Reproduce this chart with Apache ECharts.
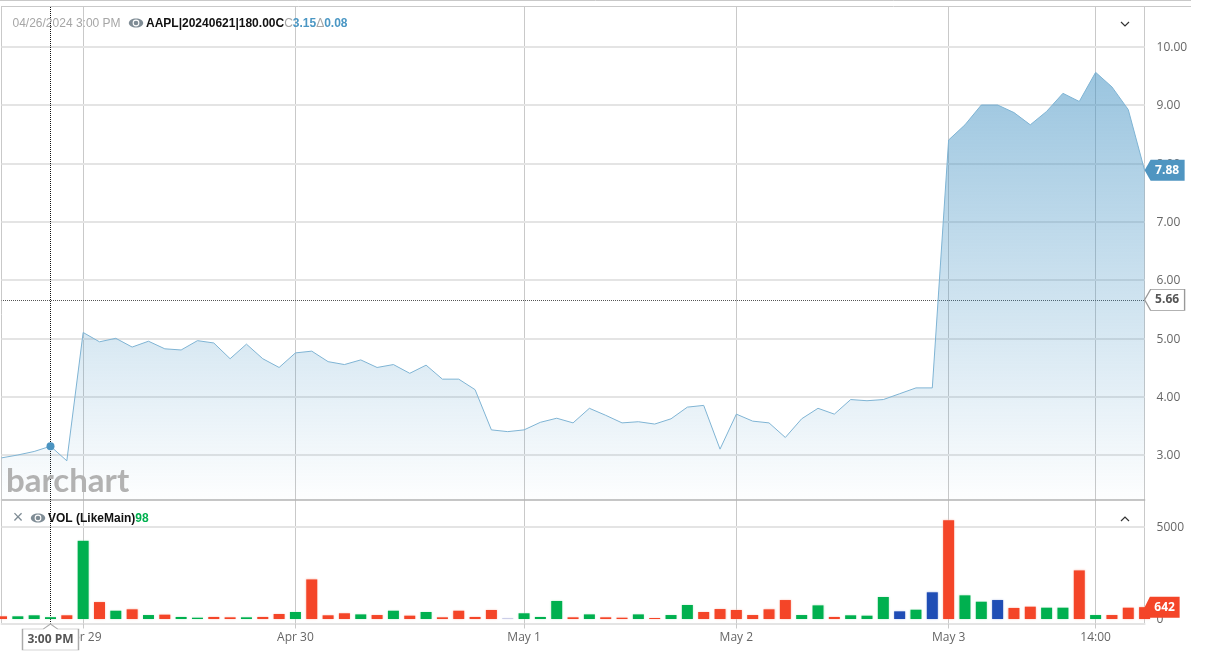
<!DOCTYPE html>
<html><head><meta charset="utf-8">
<style>html,body{margin:0;padding:0;background:#fff}#c{width:1210px;height:656px}</style>
<script src="https://cdn.jsdelivr.net/npm/echarts@6/dist/echarts.min.js"></script>
</head><body><div id="c"></div>
<script>
// 30-minute bars; only the labelled ones carry axis text
const tickLabels = {5:'Apr 29',18:'Apr 30',32:'May 1',45:'May 2',58:'May 3',67:'14:00'};
const categories = Array.from({length:71},(_,i)=>tickLabels[i]||('b'+i));
const prices = [2.95,3.0,3.06,3.15,2.9,5.1,4.94,5.0,4.85,4.95,4.82,4.8,4.96,4.92,4.65,4.9,4.65,4.5,4.75,4.78,4.6,4.55,4.63,4.5,4.55,
  4.4,4.54,4.3,4.3,4.12,3.43,3.4,3.43,3.56,3.63,3.55,3.8,3.68,3.55,3.57,3.53,3.62,3.82,3.85,3.1,3.7,3.58,3.55,3.3,3.62,
  3.8,3.7,3.95,3.93,3.95,4.05,4.15,4.15,8.4,8.66,9.0,9.0,8.87,8.66,8.89,9.2,9.06,9.56,9.31,8.92,7.88];
const volumes = [145,145,200,98,200,4250,920,450,525,215,235,110,70,110,90,90,110,270,380,2150,200,310,250,215,450,
  180,380,90,450,110,490,50,310,110,980,90,250,90,70,250,55,215,760,380,540,490,215,525,1030,215,
  740,110,200,180,1195,415,505,1450,5360,1285,940,1030,600,670,615,615,2640,215,215,615,642];
const dirs = ['r','g','g','g','r','g','r','g','r','g','r','g','g','r','r','g','r','r','g','r','r','r','g','r','g',
  'r','g','r','r','r','r','p','g','g','g','r','g','r','r','g','r','g','g','r','r','r','r','r','r','g',
  'g','r','g','g','g','b','g','b','r','g','g','b','r','r','g','g','r','g','r','r','r'];
const dirColors = {g:'#00b04f',r:'#f44528',b:'#1f4db5',p:'#c9cbe6'};
const dirEdges = {g:'#c4ecd3',r:'#fbc3b8',b:'#b6c4e6',p:'#dfe0f0'};
const priceTicks = [3,4,5,6,7,8,9,10];
const volumeTicks = [0,5000];
const lastPrice = 7.88, crossPrice = 5.66, crossIndex = 3, lastVolume = 642;

const tickFn = i => !!tickLabels[i];
const grey = '#c9c9c9', grid = '#e4e4e4', label = '#666', OS = '"Open Sans"', LS = '"Liberation Sans"';
const tagL = 'path://M0 10.5 L6 0 L40 0 L40 21 L6 21 Z';
const dot = {color:'#111',type:[1,1],width:1};
const hLine = (x1,y,x2,c,w)=>({type:'line',silent:true,z:1,shape:{x1,y1:y,x2,y2:y},style:{stroke:c,lineWidth:w||1}});
const vLine = (x,y1,y2,c)=>({type:'line',silent:true,z:1,shape:{x1:x,y1,x2:x,y2},style:{stroke:c,lineWidth:1}});
const eye = (x,y)=>({type:'group',x,y,silent:true,z:20,children:[
  {type:'ellipse',shape:{cx:7,cy:5,rx:7.2,ry:4.6},style:{fill:'#7f8c95'}},
  {type:'circle',shape:{cx:7,cy:5,r:3.4},style:{fill:'#fff'}},
  {type:'circle',shape:{cx:7,cy:5,r:2.3},style:{fill:'#7f8c95'}}]});
const chev = (x,y,d)=>({type:'polyline',silent:true,z:20,shape:{points:[[x-4,y-2*d],[x,y+2*d],[x+4,y-2*d]]},style:{stroke:'#333',fill:null,lineWidth:1.2}});
const yLabel = {color:label,fontFamily:OS,fontSize:12,margin:12,verticalAlign:'top',lineHeight:2};

const chart = echarts.init(document.getElementById('c'),null,{renderer:'canvas'});
chart.setOption({
  animation:false,
  grid:[{left:1.5,width:1143.1,top:7,height:493},{left:1.5,width:1143.1,top:500,height:123.5}],
  xAxis:[
    {type:'category',gridIndex:0,data:categories,boundaryGap:false,
     axisLine:{onZero:false,lineStyle:{color:'#b4b4b4',width:1.5}},axisTick:{show:false},axisLabel:{show:false},
     splitLine:{show:true,interval:tickFn,lineStyle:{color:grey,width:1}}},
    {type:'category',gridIndex:1,data:categories,boundaryGap:false,
     axisLine:{onZero:false,lineStyle:{color:grid,width:2}},
     axisTick:{show:true,interval:tickFn,length:5,lineStyle:{color:grey}},
     axisLabel:{interval:tickFn,formatter:v=>v.startsWith('b')?'':v,color:label,fontFamily:OS,fontSize:12,margin:8},
     splitLine:{show:true,interval:tickFn,lineStyle:{color:grey,width:1}}}
  ],
  yAxis:[
    {type:'value',gridIndex:0,position:'right',min:2.228,max:10.68,
     axisLine:{show:true,lineStyle:{color:grey}},axisTick:{show:false},
     axisLabel:{...yLabel,customValues:priceTicks,formatter:v=>v.toFixed(2)},
     splitLine:{show:false}},
    {type:'value',gridIndex:1,position:'right',min:-245,max:6467,
     axisLine:{show:true,lineStyle:{color:grey}},axisTick:{show:false},
     axisLabel:{...yLabel,customValues:volumeTicks,formatter:v=>String(v)},
     splitLine:{show:false}}
  ],
  series:[
    {type:'line',xAxisIndex:0,yAxisIndex:0,data:prices,showSymbol:false,silent:true,z:3,
     lineStyle:{color:'#7fb4d4',width:1},
     areaStyle:{origin:'start',color:{type:'linear',x:0,y:0,x2:0,y2:1,colorStops:[{offset:0,color:'rgba(65,145,195,0.76)'},{offset:1,color:'rgba(65,145,195,0.01)'}]}},
     markLine:{silent:true,symbol:'none',animation:false,label:{show:false},z:1,data:[
       ...priceTicks.map(v=>({yAxis:v,lineStyle:{color:grid,width:2,type:'solid'}})),
       {xAxis:crossIndex,lineStyle:dot},
       {yAxis:crossPrice,lineStyle:{color:'#555',type:[1,1],dashOffset:0.5,width:1}}]},
     markPoint:{silent:true,animation:false,data:[
       {coord:[crossIndex,prices[crossIndex]],symbol:'circle',symbolSize:8,itemStyle:{color:'#4b94c1'},label:{show:false}},
       {coord:[prices.length-1,lastPrice],symbol:tagL,symbolSize:[40,21],symbolOffset:[20,0],itemStyle:{color:'#4f95c1'},
        label:{show:true,position:'inside',offset:[2.5,0],formatter:lastPrice.toFixed(2),color:'#fff',fontWeight:'bold',fontFamily:OS,fontSize:12}},
       {coord:[prices.length-1,crossPrice],symbol:tagL,symbolSize:[40,21],symbolOffset:[20,0],itemStyle:{color:'#fff',borderColor:'#999',borderWidth:1},
        label:{show:true,position:'inside',offset:[2.5,0],formatter:crossPrice.toFixed(2),color:'#555',fontWeight:'bold',fontFamily:OS,fontSize:12}}
     ]}},
    {type:'bar',xAxisIndex:1,yAxisIndex:1,barWidth:11,silent:true,z:3,
     data:volumes.map((v,i)=>({value:v,itemStyle:{color:dirColors[dirs[i]],shadowBlur:2,shadowColor:dirEdges[dirs[i]]}})),
     markLine:{silent:true,symbol:'none',animation:false,label:{show:false},z:1,data:[
       {yAxis:5000,lineStyle:{color:grid,width:2,type:'solid'}},
       {xAxis:crossIndex,lineStyle:{...dot,dashOffset:0.5}}]},
     markPoint:{silent:true,animation:false,data:[
       {coord:[volumes.length-1,lastVolume],symbol:tagL,symbolSize:[35,21],symbolOffset:[17.5,0],itemStyle:{color:'#f44528'},
        label:{show:true,position:'inside',offset:[2.5,0],formatter:String(lastVolume),color:'#fff',fontWeight:'bold',fontFamily:OS,fontSize:12}},
       {coord:[crossIndex,-245],symbol:'path://M28 0 L35 5 L56 5 L56 26 L0 26 L0 5 L21 5 Z',symbolSize:[56,26],symbolOffset:[0,13.5],
        itemStyle:{color:'#fff',borderColor:'#aaa',borderWidth:1},
        label:{show:true,position:'inside',offset:[0,2.5],formatter:'3:00 PM',color:'#555',fontWeight:'bold',fontFamily:OS,fontSize:12}}
     ]}}
  ],
  graphic:[
    hLine(0,0.5,1191,grey),hLine(1,6.5,1191,grey),
    vLine(1.5,6,623,grey),
    {type:'text',silent:true,z:20,x:12.5,y:24,style:{text:'04/26/2024 3:00 PM',fill:'#a6a6a6',font:'12px '+LS,textVerticalAlign:'middle'}},
    eye(129,18),
    {type:'text',silent:true,z:20,x:146,y:24,style:{rich:{a:{fill:'#111',font:'bold 12px '+LS},c:{fill:'#a6a6a6',font:'12px '+LS},v:{fill:'#4b97c4',font:'bold 12px '+LS}},
      text:'{a|AAPL|20240621|180.00C}{c|C}{v|3.15}{c|Δ}{v|0.08}',textVerticalAlign:'middle'}},
    chev(1125,24,1),
    {type:'text',silent:true,z:20,x:6,y:481,style:{text:'barchart',fill:'#b2b2b2',font:'bold 33px Lato',textVerticalAlign:'middle'}},
    {type:'text',silent:true,z:20,x:18,y:518,style:{text:'×',fill:'#7f8c95',font:'18px '+LS,textAlign:'center',textVerticalAlign:'middle'}},
    eye(31,513),
    {type:'text',silent:true,z:20,x:48,y:519,style:{rich:{a:{fill:'#111',font:'bold 12px '+LS},v:{fill:'#00b04f',font:'bold 12px '+LS}},text:'{a|VOL (LikeMain)}{v|98}',textVerticalAlign:'middle'}},
    chev(1125,519,-1)
  ]
});
</script></body></html>
